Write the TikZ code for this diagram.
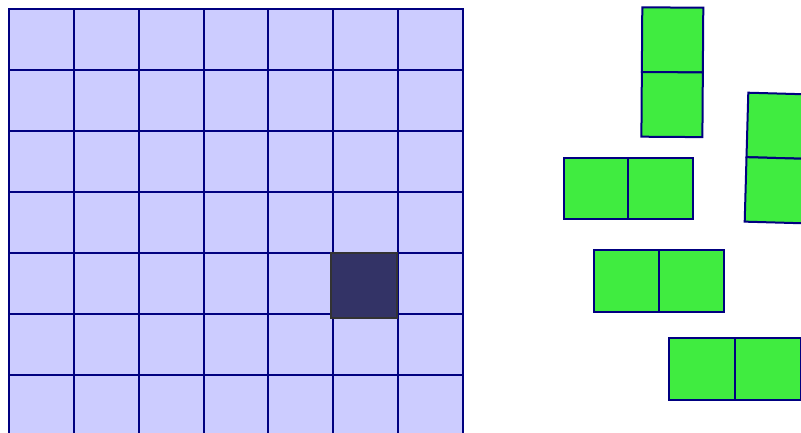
\documentclass[tikz,border=0pt]{standalone}
\usepackage{xcolor}
\usepackage{tikz}
\definecolor{lilac}{RGB}{204,204,255}
\definecolor{navy}{RGB}{0,0,128}
\definecolor{tilegreen}{RGB}{64,236,64}
\definecolor{hole}{RGB}{51,51,102}

\begin{document}
\begin{tikzpicture}[
    x=1pt, y=-1pt,
    cell/.style={draw=navy, line width=2pt, fill=lilac},
    tile/.style={draw=navy, line width=2pt, fill=tilegreen},
    gap/.style={draw=black!80, line width=1.3pt, fill=hole},
]
\useasboundingbox (0,0) rectangle (801,432);
\clip (0,0) rectangle (801,432);

% board
\foreach \i in {0,...,6}
  \foreach \j in {0,...,6}
    \draw[cell] ({9+64.86*\i},{9+61*\j}) rectangle ++(64.86,61);
\draw[gap] (331,253) rectangle (397,318);

% dominoes
\begin{scope}[shift={(642.3,7.3)}, rotate=-0.4]
  \draw[tile] (0,0) rectangle (61,64.7);
  \draw[tile] (0,64.7) rectangle (61,129.4);
\end{scope}
\begin{scope}[shift={(748.3,92.7)}, rotate=-1.6]
  \draw[tile] (0,0) rectangle (61,64.5);
  \draw[tile] (0,64.5) rectangle (61,129);
\end{scope}
\begin{scope}[shift={(564,158.3)}]
  \draw[tile] (0,0) rectangle (64.3,61);
  \draw[tile] (64.3,0) rectangle (129.3,61);
\end{scope}
\begin{scope}[shift={(594.3,250)}]
  \draw[tile] (0,0) rectangle (64.7,61.7);
  \draw[tile] (64.7,0) rectangle (129.4,61.7);
\end{scope}
\begin{scope}[shift={(669,338)}]
  \draw[tile] (0,0) rectangle (66,62);
  \draw[tile] (66,0) rectangle (132,62);
\end{scope}
\end{tikzpicture}
\end{document}
